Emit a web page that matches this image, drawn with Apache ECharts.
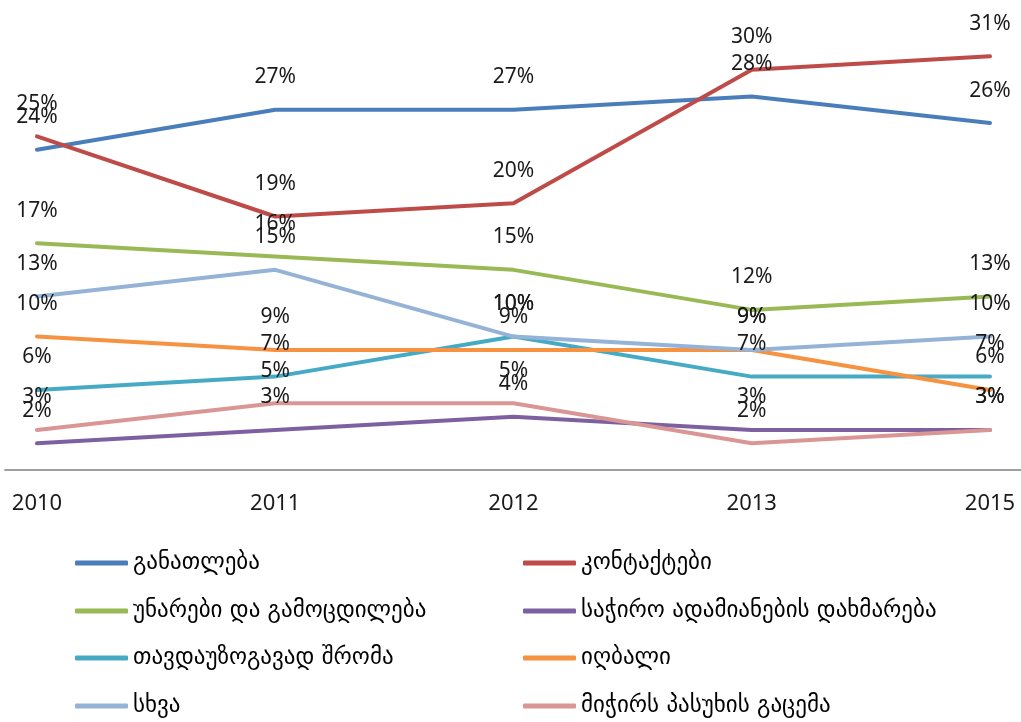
<!DOCTYPE html>
<html><head><meta charset="utf-8">
<script src="https://cdn.jsdelivr.net/npm/echarts@6/dist/echarts.min.js"></script>
<style>html,body{margin:0;padding:0;background:#fff}#c{width:1021px;height:722px}</style>
</head><body><div id="c"></div>
<script>
const categories = ['2010', '2011', '2012', '2013', '2015'];
const seriesNames = ['განათლება', 'კონტაქტები', 'უნარები და გამოცდილება', 'საჭირო ადამიანების დახმარება', 'თავდაუზოგავად შრომა', 'იღბალი', 'სხვა', 'მიჭირს პასუხის გაცემა'];
const education = [24, 27, 27, 28, 26];
const contacts = [25, 19, 20, 30, 31];
const skills = [17, 16, 15, 12, 13];
const helpingPeople = [2, 3, 4, 3, 3];
const hardWork = [6, 7, 10, 7, 7];
const luck = [10, 9, 9, 9, 6];
const other = [13, 15, 10, 9, 10];
const hardToAnswer = [3, 5, 5, 2, 3];
const colors = ['#4A7EBB', '#BE4B48', '#98B954', '#7D60A0', '#46AAC5', '#F69240', '#94B3D6', '#D99694'];
const values = [education, contacts, skills, helpingPeople, hardWork, luck, other, hardToAnswer];

const chart = echarts.init(document.getElementById('c'), null, {renderer: 'canvas'});
const labelFont = 'Noto Sans';
const series = values.map((v, i) => ({
  name: seriesNames[i],
  type: 'line',
  data: v,
  xAxisIndex: 0, yAxisIndex: 0,
  symbol: 'circle', symbolSize: 0.01, showSymbol: true,
  lineStyle: {width: 4, color: colors[i], cap: 'round', join: 'round'},
  itemStyle: {color: colors[i]},
  label: {show: true, position: 'top', distance: 22, formatter: '{c}%', color: '#1a1a1a', fontFamily: labelFont, fontSize: 21},
  emphasis: {disabled: true},
  animation: false
}));
// legend layout: two columns, four rows
const colLeft = [75, 523];
const rowCenter = [563, 611, 658, 706];
const legends = seriesNames.map((name, i) => ({
  orient: 'horizontal', left: colLeft[i % 2], top: rowCenter[Math.floor(i / 2)] - 13,
  padding: 0, itemWidth: 53, itemHeight: 5, icon: 'roundRect', selectedMode: false,
  data: [name],
  textStyle: {fontFamily: 'DejaVu Sans', fontSize: 23, color: '#000', lineHeight: 26}
}));
chart.setOption({
  animation: false,
  color: colors,
  grid: [
    {left: 37, right: 31, top: 3, bottom: 252},
    {left: 5, right: 0, top: 3, bottom: 252}
  ],
  xAxis: [
    {type: 'category', data: categories, boundaryGap: false, gridIndex: 0,
     axisLine: {show: false}, axisTick: {show: false},
     axisLabel: {color: '#1a1a1a', fontFamily: labelFont, fontSize: 22, margin: 23}},
    {type: 'value', gridIndex: 1, min: 0, max: 1,
     axisLine: {show: true, lineStyle: {color: '#a0a0a0', width: 2}}, axisTick: {show: false},
     axisLabel: {show: false}, splitLine: {show: false}}
  ],
  yAxis: [
    {type: 'value', min: 0, max: 35, gridIndex: 0, show: false, splitLine: {show: false}},
    {type: 'value', min: 0, max: 1, gridIndex: 1, show: false, splitLine: {show: false}}
  ],
  legend: legends,
  series: series
});
</script></body></html>
